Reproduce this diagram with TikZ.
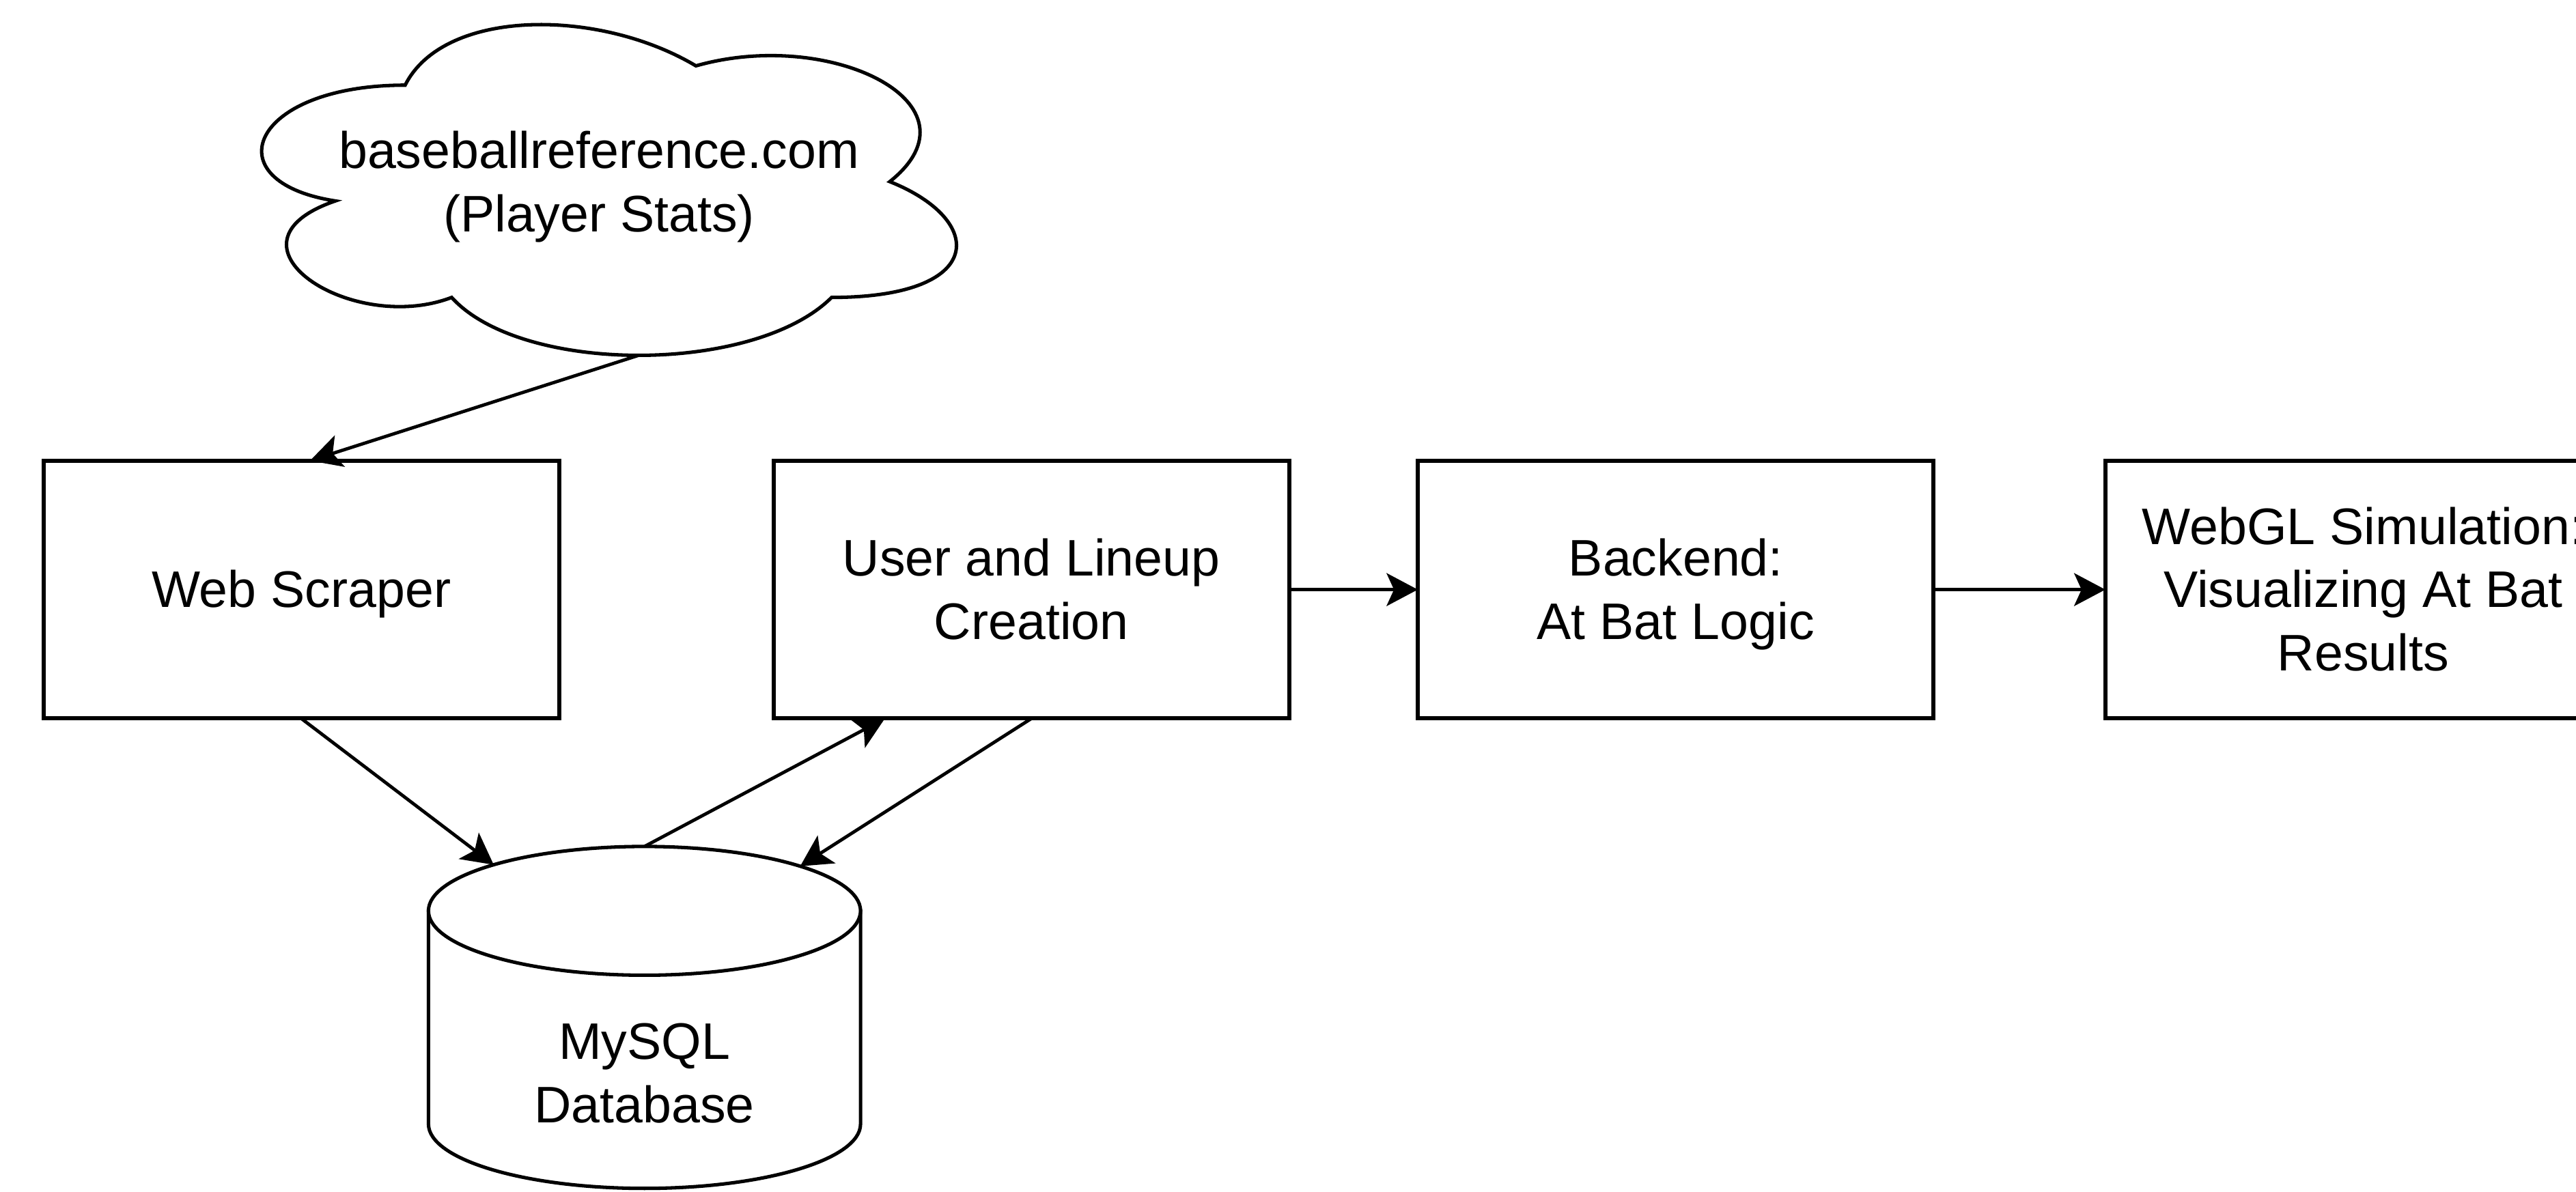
\documentclass[tikz,border=0pt]{standalone}
\usepackage{fontspec}
\setmainfont{Liberation Sans}
\usetikzlibrary{arrows.meta,shapes.geometric}
\newcommand{\lnstrut}{\rule[-8.4pt]{0pt}{38.5pt}}
\begin{document}
\begin{tikzpicture}[x=1pt,y=1pt,
  lbl/.style={font=\fontsize{31.3pt}{38.5pt}\selectfont, align=center, inner sep=0pt, outer sep=0pt, text=black},
  procbox/.style={lbl, draw=black, line width=2.5pt, minimum width=314pt, minimum height=157pt, fill=white},
  conn/.style={draw=black, line width=2pt, -{Stealth[length=19pt,width=20pt,inset=4.5pt]}},
  outline/.style={draw=black, line width=2.1pt, fill=white}]
\useasboundingbox (0,0) rectangle (1568,-725.4);
\clip (0,0) rectangle (1568,-725.4);
\fill[white] (0,0) rectangle (1568,-725.4);

% cloud outline
\begin{scope}[shift={(128.6pt,6.9pt)}, x=472pt, y=-235pt]
  \path[outline] (0.25,0.25) .. controls (0.05,0.25) and (0,0.5) .. (0.16,0.55)
    .. controls (0,0.66) and (0.18,0.9) .. (0.31,0.8)
    .. controls (0.4,1) and (0.7,1) .. (0.8,0.8)
    .. controls (1,0.8) and (1,0.6) .. (0.875,0.5)
    .. controls (1,0.3) and (0.8,0.1) .. (0.625,0.2)
    .. controls (0.5,0.05) and (0.3,0.05) .. (0.25,0.25) -- cycle;
  \coordinate (cloudbot) at (0.55125,0.95);
\end{scope}
\node[lbl, minimum width=472pt, minimum height=235pt] (cloud) at (364.6,-111)
  {\lnstrut baseballreference.com\\\lnstrut (Player Stats)};

% boxes
\node[procbox] (ws) at (183.4,-359) {\lnstrut Web Scraper};
\node[procbox] (user) at (627.8,-359) {\lnstrut User and Lineup\\\lnstrut Creation};
\node[procbox] (backend) at (1020,-359) {\lnstrut Backend:\\\lnstrut At Bat Logic};
\node[procbox] (webgl) at (1438.5,-359) {\lnstrut WebGL Simulation:\\\lnstrut Visualizing At Bat\\\lnstrut Results};

% database cylinder
\path[outline] (260.8,-554.6) -- (260.8,-684.4)
  arc[start angle=180, end angle=360, x radius=131.5pt, y radius=39.2pt]
  -- (523.8,-554.6) -- cycle;
\path[outline] (392.3,-554.6) ellipse [x radius=131.5pt, y radius=39.2pt];
\node[ellipse, minimum width=263pt, minimum height=78.4pt, inner sep=0pt, outer sep=0pt] (dbtop) at (392.3,-554.6) {};
\node[lbl] (db) at (392.3,-653.5) {\lnstrut MySQL\\\lnstrut Database};

% connectors
\draw[conn] (cloudbot) -- ([xshift=5.3pt]ws.north);
\draw[conn] (ws.south) -- (dbtop.163.4);
\draw[conn] (dbtop.north) -- ([xshift=67.8pt]user.south west);
\draw[conn] (user.south) -- (dbtop.16);
\draw[conn] (user.east) -- (backend.west);
\draw[conn] (backend.east) -- (webgl.west);
\end{tikzpicture}
\end{document}
